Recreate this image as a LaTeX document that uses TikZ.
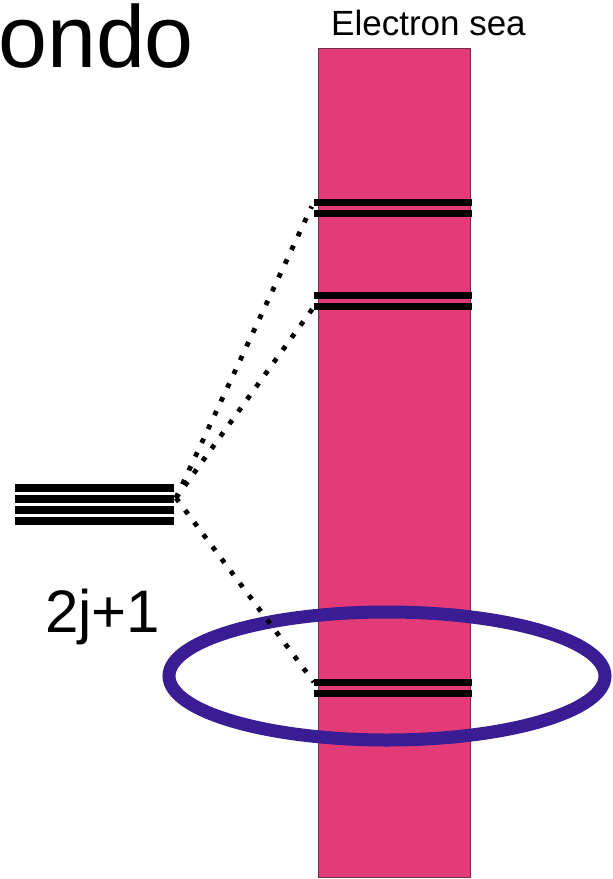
\documentclass[tikz,border=0pt]{standalone}
\usepackage{fontspec}
\setmainfont{Liberation Sans}
\usetikzlibrary{positioning}

\definecolor{seapink}{RGB}{227,59,119}
\definecolor{seaedge}{RGB}{115,45,80}
\definecolor{ringblue}{RGB}{58,28,148}

\begin{document}
\begin{tikzpicture}[x=1pt, y=-1pt,
    sea/.style={draw=seaedge, fill=seapink, line width=0.8pt, inner sep=0pt,
      minimum width=152pt, minimum height=829pt},
    level/.style={fill=black, inner sep=0pt, minimum width=158pt, minimum height=7pt},
    impurity/.style={fill=black, inner sep=0pt, minimum width=159pt, minimum height=8pt},
    hop/.style={line width=4.8pt, dash pattern=on 4.8pt off 10.4pt},
    ring/.style={draw=ringblue, line width=13pt},
    label/.style={inner sep=0pt, anchor=base west}
  ]
  \useasboundingbox (0,0) rectangle (613,879);

  % Title (cut off at the left)
  \node[label, font=\fontsize{88}{100}\selectfont] (title) at (-2,67) {ondo};

  % Electron sea
  \node[sea] (sea) at (394,462.5) {};
  \node[label, font=\fontsize{35}{40}\selectfont] (sealabel) at (331,35) {Electron sea};

  % Ring round the low-lying pair
  \draw[ring] (387,676) ellipse [x radius=218pt, y radius=64pt];

  % Levels in the sea
  \node[level] (e1a) at (393,202) {};
  \node[level, below=4pt of e1a] (e1b) {};
  \node[level] (e2a) at (393,295.5) {};
  \node[level, below=4pt of e2a] (e2b) {};
  \node[level] (e3a) at (393,682) {};
  \node[level, below=4pt of e3a] (e3b) {};

  % Impurity levels
  \node[impurity] (lv1) at (94.5,488) {};
  \node[impurity, below=2.67pt of lv1] (lv2) {};
  \node[impurity, below=2.67pt of lv2] (lv3) {};
  \node[impurity, below=2.67pt of lv3] (lv4) {};
  \node[label, font=\fontsize{60}{70}\selectfont] (deg) at (45,632) {2j+1};

  % Hybridisation
  \coordinate (fan) at (176,498);
  \draw[hop, shorten >=5pt] (fan) -- (e1a.west);
  \draw[hop] (fan) -- (e2b.west);
  \draw[hop] (fan) -- (e3a.west);
\end{tikzpicture}
\end{document}
